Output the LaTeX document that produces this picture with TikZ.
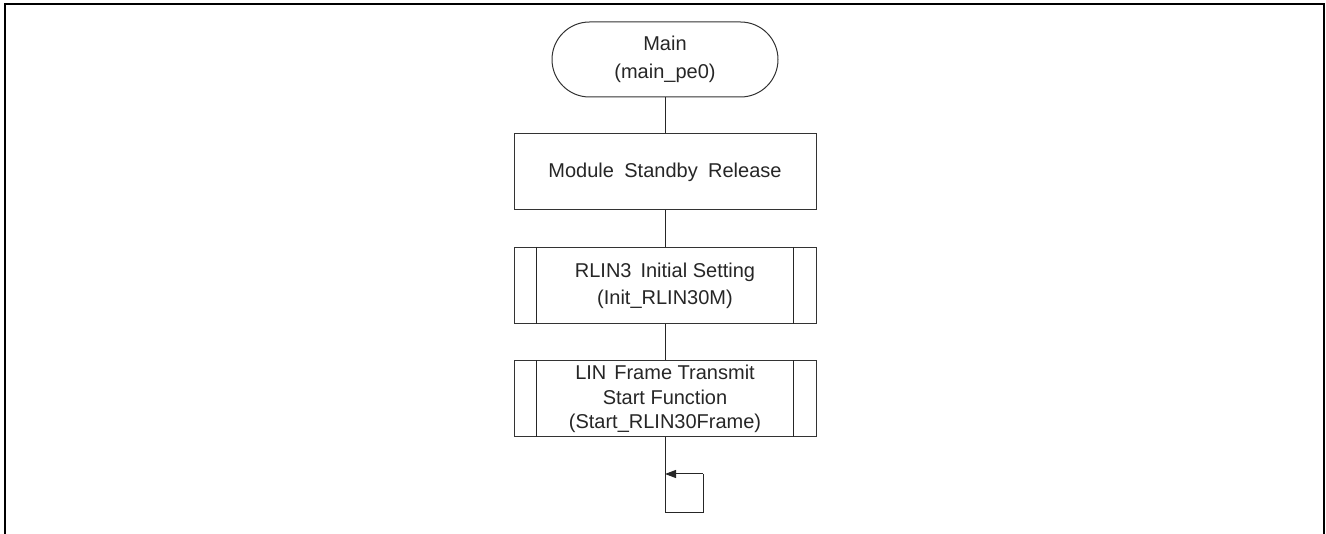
\documentclass[tikz,border=0pt]{standalone}
\usepackage{fontspec}
\setmainfont{Liberation Sans}
\usetikzlibrary{arrows.meta,shapes.misc,calc}
\begin{document}
\begin{tikzpicture}[x=1pt,y=-1pt,
  base/.style={draw=black!80, line width=1pt, inner sep=0pt, align=center, text=black!85},
  term/.style={base, rounded rectangle, minimum width=226pt, minimum height=75pt, font=\fontsize{20}{28}\selectfont},
  procbox/.style={base, rectangle, minimum width=302pt, minimum height=76pt, font=\fontsize{20}{27}\selectfont},
  subbox/.style={base, rectangle, minimum width=302pt, minimum height=76pt, font=\fontsize{20}{27}\selectfont},
  conn/.style={draw=black!85, line width=1pt},
  frame/.style={draw=black, line width=2pt}
]
\useasboundingbox (0,0) rectangle (1326,534);
\draw[frame] (5,540) -- (5,4) -- (1324,4) -- (1324,540);

\node[term] (main) at (665,59.5) {Main\\(main\_pe0)};
\node[procbox] (msr) at (665,172) {Module\hspace{0.52em}Standby\hspace{0.52em}Release};
\node[subbox] (rlin) at (665,285.5) {RLIN3\hspace{0.45em}Initial Setting\\(Init\_RLIN30M)};
\node[subbox, font=\fontsize{20}{24.5}\selectfont] (lin) at (665,399) {LIN\hspace{0.4em}Frame Transmit\\Start Function\\(Start\_RLIN30Frame)};

\foreach \n in {rlin,lin}{
  \draw[conn] ($(\n.north west)+(23,0)$) -- ($(\n.south west)+(23,0)$);
  \draw[conn] ($(\n.north east)+(-23,0)$) -- ($(\n.south east)+(-23,0)$);
}

\draw[conn] (main) -- (msr);
\draw[conn] (msr) -- (rlin);
\draw[conn] (rlin) -- (lin);

\coordinate (lb) at (665,512);
\coordinate (rb) at (703,512);
\coordinate (rt) at (703,474);
\coordinate (lt) at (665,474);
\draw[conn] (lin.south) -- (lb) -- (rb) -- (rt);
\draw[conn, -{Triangle[length=11pt,width=8pt]}] (rt) -- (lt);
\end{tikzpicture}
\end{document}
